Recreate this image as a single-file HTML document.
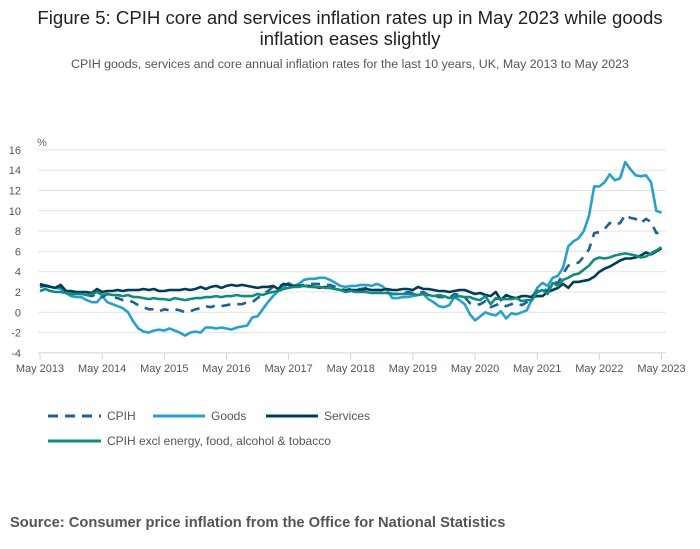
<!DOCTYPE html>
<html><head><meta charset="utf-8"><style>
body{margin:0;width:700px;height:549px;background:#fff;font-family:"Liberation Sans",sans-serif;overflow:hidden}
svg{display:block}
</style></head><body>
<svg width="700" height="549" id="c">
<text x="350" y="24" text-anchor="middle" font-size="18.6" fill="#222">Figure 5: CPIH core and services inflation rates up in May 2023 while goods</text>
<text x="350" y="45" text-anchor="middle" font-size="18.6" fill="#222">inflation eases slightly</text>
<text x="350" y="68" text-anchor="middle" font-size="12.4" fill="#555">CPIH goods, services and core annual inflation rates for the last 10 years, UK, May 2013 to May 2023</text>
<text x="37" y="146" font-size="11" fill="#666">%</text>
<g id="grid"></g><g id="series"></g>
<g font-size="12" fill="#555">
<line x1="48" y1="416" x2="101" y2="416" stroke="#206095" stroke-width="3" stroke-dasharray="10,7"/>
<text x="107" y="420">CPIH</text>
<line x1="153" y1="416" x2="205" y2="416" stroke="#27a0cc" stroke-width="3"/>
<text x="211" y="420">Goods</text>
<line x1="266" y1="416" x2="318" y2="416" stroke="#003c57" stroke-width="3"/>
<text x="324" y="420">Services</text>
<line x1="48" y1="441" x2="101" y2="441" stroke="#118c7b" stroke-width="3"/>
<text x="107" y="445">CPIH excl energy, food, alcohol &amp; tobacco</text>
</g>
<text x="10" y="527" font-size="14.7" font-weight="bold" fill="#555">Source: Consumer price inflation from the Office for National Statistics</text>
</svg>
<script>
const yTicks=[16,14,12,10,8,6,4,2,0,-2,-4];
const xLabels=["May 2013","May 2014","May 2015","May 2016","May 2017","May 2018","May 2019","May 2020","May 2021","May 2022","May 2023"];
const cpih=[2.5,2.6,2.6,2.5,2.5,2.1,2.0,1.9,
1.8,1.7,1.6,1.8,1.5,1.8,1.5,1.4,1.2,1.2,1.0,0.7,
0.5,0.3,0.3,0.1,0.3,0.2,0.3,0.2,0.0,0.1,0.3,0.4,
0.6,0.5,0.7,0.6,0.7,0.8,0.8,0.8,1.0,1.0,1.4,1.8,
2.1,2.5,2.6,2.7,2.8,2.6,2.6,2.7,2.8,2.8,2.8,2.7,
2.7,2.5,2.3,2.2,2.3,2.3,2.3,2.4,2.2,2.2,2.2,2.0,
1.8,1.8,1.8,2.0,1.9,1.9,2.0,1.7,1.7,1.5,1.5,1.4,
1.8,1.7,1.5,0.9,0.7,0.8,1.1,0.5,0.7,0.9,0.6,0.8,
0.9,0.7,1.0,1.6,2.1,2.4,2.1,3.0,2.9,3.8,4.6,4.8,
4.9,5.5,6.2,7.8,7.9,8.2,8.8,8.6,8.8,9.6,9.3,9.2,
8.8,9.2,8.9,7.8,7.9];
const goods=[2.6,2.7,2.5,2.4,2.3,1.9,1.6,1.5,
1.5,1.2,1.0,1.0,1.6,1.0,0.8,0.6,0.4,0.0,-0.9,-1.6,
-1.9,-2.0,-1.8,-1.7,-1.8,-1.6,-1.8,-2.0,-2.3,-2.0,-1.9,-2.0,
-1.5,-1.5,-1.6,-1.5,-1.6,-1.7,-1.5,-1.4,-1.3,-0.5,-0.4,0.3,
1.0,1.6,2.1,2.4,2.9,2.6,2.8,3.2,3.3,3.3,3.4,3.4,
3.2,2.9,2.6,2.5,2.6,2.6,2.7,2.7,2.6,2.8,2.6,2.2,
1.4,1.4,1.5,1.5,1.6,1.7,1.8,1.3,1.0,0.6,0.5,0.7,
1.5,1.2,0.8,-0.2,-0.8,-0.4,0.0,-0.2,-0.3,0.1,-0.6,-0.1,
-0.2,0.0,0.2,1.3,2.4,2.9,2.6,3.4,3.6,4.4,6.5,7.0,
7.3,8.0,9.5,12.4,12.4,12.8,13.6,13.0,13.2,14.8,14.1,13.5,
13.4,13.5,12.8,10.0,9.8];
const services=[2.8,2.6,2.5,2.4,2.7,2.1,2.1,2.0,
2.0,2.0,1.9,2.3,2.0,2.1,2.1,2.2,2.1,2.2,2.2,2.2,
2.3,2.2,2.3,2.1,2.1,2.2,2.2,2.2,2.3,2.2,2.3,2.5,
2.3,2.5,2.6,2.4,2.6,2.7,2.6,2.7,2.6,2.5,2.4,2.5,
2.5,2.6,2.3,2.8,2.7,2.6,2.6,2.6,2.6,2.5,2.4,2.5,
2.4,2.3,2.2,2.1,2.2,2.2,2.2,2.3,2.2,2.2,2.2,2.3,
2.2,2.2,2.3,2.3,2.2,2.5,2.3,2.3,2.2,2.1,2.1,2.0,
2.1,2.2,2.2,2.0,1.8,1.9,1.7,1.6,2.0,1.2,1.7,1.5,
1.4,1.6,1.6,1.5,1.6,1.6,2.0,2.2,2.4,2.8,2.4,3.0,
3.0,3.1,3.2,3.5,4.0,4.3,4.5,4.8,5.1,5.3,5.3,5.4,
5.6,5.9,5.7,6.0,6.3];
const core=[2.1,2.3,2.1,2.0,2.0,1.9,1.8,1.8,
1.8,1.7,1.8,2.0,1.7,1.8,1.7,1.7,1.6,1.7,1.5,1.5,
1.4,1.3,1.4,1.3,1.3,1.2,1.4,1.3,1.2,1.3,1.4,1.4,
1.5,1.5,1.6,1.5,1.6,1.6,1.7,1.6,1.6,1.6,1.8,1.7,
1.9,2.0,2.1,2.3,2.4,2.5,2.5,2.6,2.5,2.5,2.5,2.4,
2.4,2.3,2.2,2.0,2.1,2.0,2.0,2.0,1.9,1.9,1.9,1.9,
1.8,1.8,1.8,1.8,1.8,1.7,1.8,1.7,1.6,1.7,1.6,1.4,
1.5,1.6,1.5,1.5,1.3,1.2,1.6,0.8,1.4,1.3,1.3,1.3,
1.4,1.1,1.2,1.2,2.0,2.2,1.8,2.9,2.6,3.2,3.4,3.7,
3.8,4.2,4.6,5.2,5.4,5.3,5.4,5.6,5.7,5.8,5.7,5.6,
5.4,5.5,5.8,6.1,6.4];
const NS="http://www.w3.org/2000/svg";
const X0=40,X1=661.5,Y0=312.3,PU=10.15;
const xs=i=>X0+(X1-X0)*i/120;
const ys=v=>Y0-v*PU;
function mk(t,a,p){const e=document.createElementNS(NS,t);for(const k in a)e.setAttribute(k,a[k]);p.appendChild(e);return e;}
const g=document.getElementById('grid');
yTicks.forEach(v=>{
  if(v>-4){const l=mk('line',{x1:X0-2,x2:666,y1:ys(v),y2:ys(v),stroke:'#e2e2e2','stroke-width':1},g);
  
  }
  const t=mk('text',{x:21,y:ys(v)+4,'font-size':11,fill:'#555','text-anchor':'end'},g);
  t.textContent=v;
  
  
});
const ax=mk('line',{x1:X0-2,x2:666,y1:ys(-4),y2:ys(-4),stroke:'#c6d3e6','stroke-width':1},g);


xLabels.forEach((s,i)=>{
  const x=xs(i*12);
  const tk=mk('line',{x1:x,x2:x,y1:ys(-4),y2:ys(-4)+7,stroke:'#c6d3e6'},g);
  
  
  const t=mk('text',{x:x,y:372,'font-size':11,fill:'#555','text-anchor':'middle'},g);
  t.textContent=s;
  
  
});
const sg=document.getElementById('series');
function line(arr,col,name,dash){
  const d=arr.map((v,i)=>(i?'L':'M')+xs(i).toFixed(1)+' '+ys(v).toFixed(1)).join(' ');
  const p=mk('path',{d:d,fill:'none',stroke:col,'stroke-width':2.6,'stroke-linejoin':'round'},sg);
  if(dash)p.setAttribute('stroke-dasharray',dash);
  
  
}
line(goods,'#27a0cc','goods-line');
line(cpih,'#206095','cpih-line','9,7');
line(services,'#003c57','services-line');
line(core,'#118c7b','core-line');
</script>
</body></html>
